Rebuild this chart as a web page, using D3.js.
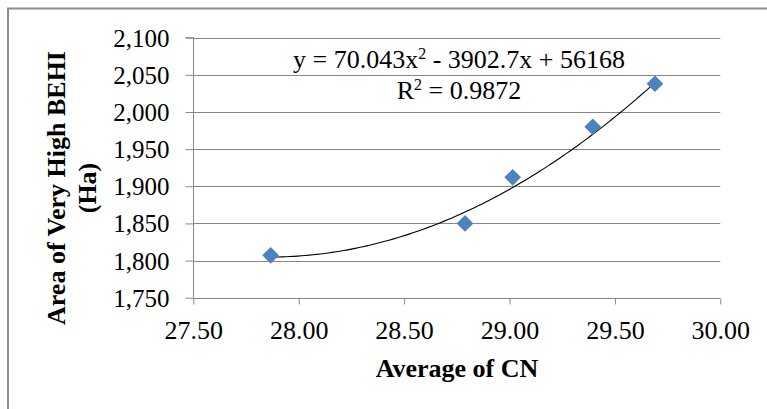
<!DOCTYPE html>
<html><head><meta charset="utf-8">
<script src="https://cdn.jsdelivr.net/npm/d3@7"></script>
<style>
html,body{margin:0;padding:0;background:#fff;}
svg{display:block;}
text{font-family:"Liberation Serif","Times New Roman",serif !important;}
</style></head>
<body>
<svg id="chart" width="767" height="409"></svg>
<script>
const cnValues = [27.867, 28.789, 29.015, 29.395, 29.690];
const areaValues = [1807, 1850, 1912, 1980, 2038];
const xTicks = [27.5, 28.0, 28.5, 29.0, 29.5, 30.0];
const yTicks = [1750, 1800, 1850, 1900, 1950, 2000, 2050, 2100];
const coef = [70.043, -3902.7, 56168];
const eqLine1 = ["y = 70.043x", "2", " - 3902.7x + 56168"];
const eqLine2 = ["R", "2", " = 0.9872"];
const xTitle = "Average of CN";
const yTitle = ["Area of Very High BEHI", "(Ha)"];

const FONT = '"Liberation Serif", "Times New Roman", serif';
const svg = d3.select("#chart");
const L = 193.3, R = 720.3, T = 37.7, B = 297.7;
const x = d3.scaleLinear().domain([27.5, 30]).range([L, R]);
const y = d3.scaleLinear().domain([1750, 2100]).range([B, T]);
const grey = "#878787";

// outer border (chart area frame, cropped at right/bottom)
svg.append("path").attr("d", "M8,410 V8.5 H770").attr("fill", "none").attr("stroke", "#8c8c8c").attr("stroke-width", 2);

// gridlines
svg.append("g").selectAll("line").data(yTicks.slice(1)).join("line")
  .attr("x1", L).attr("x2", R).attr("y1", d => Math.round(y(d)) + 0.5).attr("y2", d => Math.round(y(d)) + 0.5)
  .attr("stroke", grey).attr("stroke-width", 1);

// y axis
const yAxis = svg.append("g").attr("transform", `translate(${Math.round(L)+0.5},0)`)
  .call(d3.axisLeft(y).tickValues(yTicks).tickSize(8).tickPadding(16).tickFormat(d3.format(",")));
yAxis.select(".domain").attr("stroke", grey).attr("d", `M-8,${y(2100)}H0V${y(1750)}`);
yAxis.selectAll(".tick line").attr("stroke", grey);
yAxis.selectAll(".tick text").attr("font-size", 25).attr("fill", "#000").style("font-family", FONT).attr("dy", "0.34em");

// x axis
const xAxis = svg.append("g").attr("transform", `translate(0,${Math.round(B)+0.5})`)
  .call(d3.axisBottom(x).tickValues(xTicks).tickSize(6).tickPadding(16).tickFormat(d3.format(".2f")));
xAxis.select(".domain").attr("stroke", grey).attr("d", `M${L},0H${R}`);
xAxis.selectAll(".tick line").attr("stroke", grey);
xAxis.selectAll(".tick text").attr("font-size", 26).attr("fill", "#000").style("font-family", FONT).attr("dy", "0.72em");

// trendline
const f = v => coef[0]*v*v + coef[1]*v + coef[2];
const xs = d3.range(0, 101).map(i => cnValues[0] + (cnValues[cnValues.length-1] - cnValues[0]) * i / 100);
svg.append("path").datum(xs)
  .attr("d", d3.line().x(d => x(d)).y(d => y(f(d))))
  .attr("fill", "none").attr("stroke", "#000").attr("stroke-width", 1.1);

// markers
const sym = d3.symbol().type(d3.symbolSquare).size(140);
svg.append("g").selectAll("path").data(cnValues.map((c, i) => [c, areaValues[i]])).join("path")
  .attr("d", sym).attr("transform", d => `translate(${x(d[0])},${y(d[1])}) rotate(45)`)
  .attr("fill", "#4f81bd");

// equation
const eq = svg.append("g").attr("font-size", 26).attr("fill", "#000").attr("text-anchor", "middle").style("font-family", FONT);
function eqText(parts, yy) {
  const t = eq.append("text").attr("x", 459).attr("y", yy).style("font-family", FONT);
  t.append("tspan").text(parts[0]);
  t.append("tspan").attr("font-size", 16).attr("dy", -9).text(parts[1]);
  t.append("tspan").attr("dy", 9).text(parts[2]);
}
eqText(eqLine1, 68);
eqText(eqLine2, 99);

// axis titles
svg.append("text").attr("x", 457).attr("y", 377).attr("text-anchor", "middle").style("font-family", FONT)
  .attr("font-size", 26).attr("font-weight", "bold").text(xTitle);
const yt = svg.append("text").attr("transform", "translate(0,188) rotate(-90)").style("font-family", FONT)
  .attr("text-anchor", "middle").attr("font-size", 26).attr("font-weight", "bold");
yt.append("tspan").attr("x", 0).attr("y", 65).text(yTitle[0]);
yt.append("tspan").attr("x", 0).attr("y", 96).text(yTitle[1]);
</script>
</body></html>
